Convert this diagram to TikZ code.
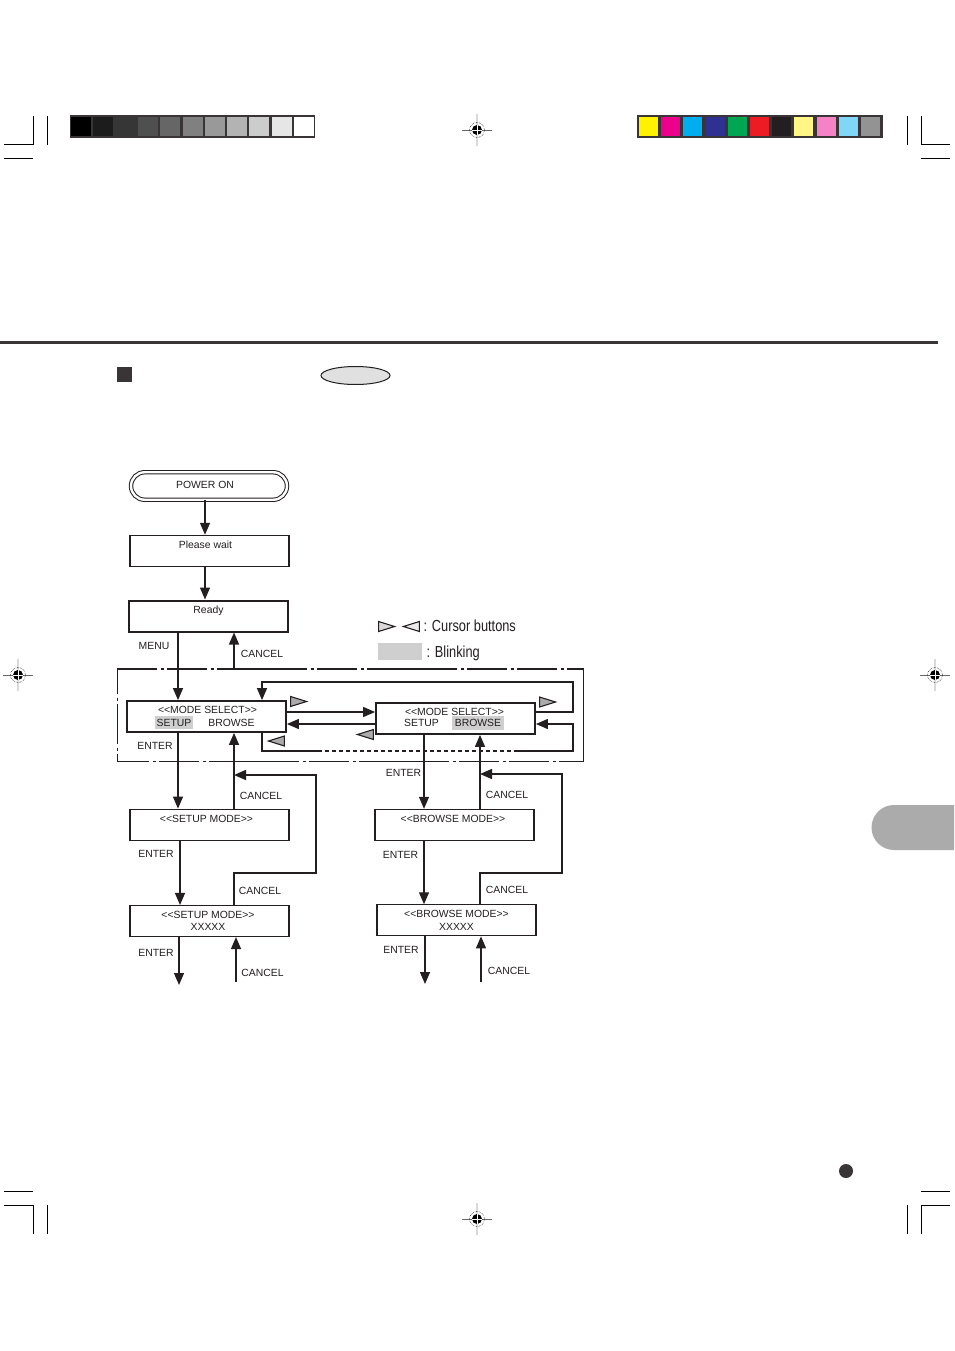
\documentclass[tikz,border=0pt]{standalone}
\usepackage{fontspec}
\setmainfont{Liberation Sans}
\newfontfamily\legendfont[FakeStretch=0.8]{Liberation Sans}
\usetikzlibrary{arrows.meta,shapes.geometric,shapes.misc}

\definecolor{blink}{HTML}{CFCFCF}
\definecolor{ink}{HTML}{231F20}
\definecolor{cursorgrey}{HTML}{ABABAB}

\begin{document}
\begin{tikzpicture}[x=1pt,y=-1pt,>={Triangle[length=12pt,width=10pt]},
    font=\fontsize{10.4}{12.6}\selectfont,line width=1.3pt,draw=ink,
    menu box/.style={rectangle,draw=ink,align=center,text=ink,minimum width=159pt,minimum height=31pt,inner sep=0pt},
    key label/.style={text=ink,inner sep=0pt},
    blink label/.style={text=ink,fill=blink,inner sep=0pt,minimum height=13.5pt},
    cursor/.style={isosceles triangle,isosceles triangle stretches,draw=ink,fill=cursorgrey,anchor=apex,
      line width=1.1pt,minimum width=10pt,minimum height=16pt,inner sep=0pt},
    crop/.style={line width=1pt,draw=black},
    frame edge/.style={line width=0.9pt,dash pattern=on 40pt off 3.5pt on 3pt off 3.5pt on 40pt off 3.5pt on 3pt off 3.5pt on 90pt off 3.5pt on 3pt off 3.5pt on 40pt off 3.5pt on 3pt off 3.5pt on 90pt off 3.5pt on 3pt off 3.5pt on 40pt off 3.5pt on 3pt off 3.5pt on 40pt off 3.5pt on 3pt off 3.5pt on 40pt}]
  \useasboundingbox (0,0) rectangle (954,1351);

  % page furniture
  \fill[white] (0,0) rectangle (954,1351);
  \fill[fill=ink!90!white] (70,115) rectangle (315,138);
  \fill[fill=ink!90!white] (637,115) rectangle (883,138);
  \foreach \i/\shade in {0/000000,1/1C1C1C,2/363636,3/4F4F4F,4/666666,5/808080,6/999999,7/B3B3B3,8/CCCCCC,9/E6E6E6,10/FFFFFF}{
    \definecolor{cell}{HTML}{\shade}
    \fill[cell] (71+22.3*\i,117) rectangle ++(20,19);
  }
  \foreach \i/\shade in {0/FFF200,1/EC008C,2/00AEEF,3/2E3192,4/00A651,5/ED1C24,6/231F20,7/FFF685,8/F682C6,9/7FD6F7,10/939393}{
    \definecolor{cell}{HTML}{\shade}
    \fill[cell] (639+22.2*\i,117) rectangle ++(19,19);
  }
  \draw[crop] (4,145) -- (33,145) -- (33,116) (47,116) -- (47,145) (4,159) -- (33,159);
  \draw[crop] (950,145) -- (921,145) -- (921,116) (907,116) -- (907,145) (950,159) -- (921,159);
  \draw[crop] (4,1205) -- (33,1205) -- (33,1234) (47,1205) -- (47,1234) (4,1191) -- (33,1191);
  \draw[crop] (950,1205) -- (921,1205) -- (921,1234) (907,1205) -- (907,1234) (950,1191) -- (921,1191);
  \foreach \px/\py in {477/130,477/1219,18/675,935/675}{
    \begin{scope}[shift={(\px,\py)}]
      \draw[line width=1.8pt,black!15] (0,-16) -- (0,16);
      \draw[line width=0.6pt,black!60] (-15,0) -- (15,0);
      \draw[line width=0.5pt,black,densely dotted] (0,0) circle (7.5pt);
      \fill[black] (0,0) circle (5pt);
      \draw[line width=0.7pt,white] (-5,0) -- (5,0) (0,-5) -- (0,5);
    \end{scope}
  }
  \fill[ink!90!white] (0,341) rectangle (938,344);
  \fill[ink!90!white] (117,367) rectangle (132,382);
  \node[ellipse,draw=ink,fill=black!12,line width=1pt,minimum width=69pt,minimum height=18pt,inner sep=0pt] (button) at (355.5,375.5) {};
  \fill[black!33] (954,805) -- (894,805) arc[start angle=90,end angle=270,radius=22.5pt] -- (954,850) -- cycle;
  \fill[ink!90!white] (846,1171) circle (7pt);

  % columns the arrows run on
  \coordinate (left down) at (178,0);
  \coordinate (left up) at (234,0);
  \coordinate (right down) at (424,0);
  \coordinate (right up) at (480,0);

  % boxes
  \node[menu box,rounded rectangle,double,double distance=2.4pt,line width=1pt,minimum width=156pt,minimum height=27.5pt] (power) at (209,486) {\raisebox{2pt}{POWER ON}\kern8pt};
  \node[menu box,line width=1.5pt] (wait) at (209.5,551) {Please wait\kern8pt\\~};
  \node[menu box,line width=2pt] (ready) at (208.5,616) {Ready\\~};
  \node[inner sep=0pt,minimum width=465pt,minimum height=91pt] (frame) at (350.5,715.5) {};
  \draw[frame edge,line width=2pt] (frame.north west) -- (frame.north east);
  \draw[frame edge,dash phase=15pt] (frame.north west) -- (frame.south west);
  \draw[frame edge,dash phase=8pt] (frame.south west) -- (frame.south east);
  \draw[line width=0.9pt] (frame.north east) -- (frame.south east);
  \node[menu box,line width=1.8pt] (mode setup) at (206.5,716.5) {\kern2pt<{}<MODE SELECT>{}>\\~};
  \node[blink label,minimum width=38pt] (setup on) at (174,722.5) {SETUP};
  \node[key label] (browse off) at (231.5,722.5) {BROWSE};
  \node[menu box,line width=1.8pt] (mode browse) at (455.5,718.5) {<{}<MODE SELECT>{}>\kern2pt\\~};
  \node[key label] (setup off) at (421.5,723) {SETUP};
  \node[blink label,minimum width=52pt] (browse on) at (478,723) {BROWSE};
  \node[menu box,line width=1.8pt] (setup) at (209.5,825) {<{}<SETUP MODE>{}>\kern6pt\\~};
  \node[menu box,line width=1.1pt] (setup value) at (209.5,921) {<{}<SETUP MODE>{}>\kern3pt\\XXXXX\kern3pt};
  \node[menu box,line width=1.4pt] (browse) at (454.5,825) {<{}<BROWSE MODE>{}>\kern3pt\\~};
  \node[menu box,line width=1.1pt] (browse value) at (456.5,920.3) {<{}<BROWSE MODE>{}>\\XXXXX};

  % free ends
  \coordinate (setup end) at (179,985);
  \coordinate (setup start) at (236,982);
  \coordinate (browse end) at (425,984);
  \coordinate (browse start) at (481,982);
  \coordinate (top corner a) at (573,682);
  \coordinate (top corner b) at (262,682);
  \coordinate (low corner a) at (262,751);
  \coordinate (low corner b) at (573,751);
  \coordinate (dash a) at (318,751);
  \coordinate (dash b) at (517,751);

  % connectors
  \draw[->] (power.south -| 205,0) -- (wait.north -| 205,0);
  \draw[->] (wait.south -| 205,0) -- (ready.north -| 205,0);
  \draw[->] (ready.south -| left down) -- (mode setup.north -| left down);
  \draw[->] (frame.north -| left up) -- (ready.south -| left up);
  \draw[->] (mode setup.south -| left down) -- (setup.north -| left down);
  \draw[->] (setup.north -| left up) -- (mode setup.south -| left up);
  \draw[->] (setup.south -| 180,0) -- (setup value.north -| 180,0);
  \draw[->] (setup value.south -| setup end) -- (setup end);
  \draw[->] (setup start) -- (setup value.south -| setup start);
  \draw[->,line width=1.6pt] (setup value.north -| left up) -- (234,873) -- (316,873) -- (316,775) -- (left up |- 0,775);

  \draw[->] (mode browse.south -| right down) -- (browse.north -| right down);
  \draw[->] (browse.north -| right up) -- (mode browse.south -| right up);
  \draw[->] (browse.south -| right down) -- (browse value.north -| right down);
  \draw[->] (browse value.south -| browse end) -- (browse end);
  \draw[->] (browse start) -- (browse value.south -| browse start);
  \draw[->,line width=1.6pt] (browse value.north -| right up) -- (480,873) -- (562,873) -- (562,774) -- (right up |- 0,774);

  \draw[->] (mode setup.east |- 0,712) -- (mode browse.west |- 0,712);
  \draw[->] (mode browse.west |- 0,724) -- (mode setup.east |- 0,724);
  \draw[->] (mode browse.east |- 0,712) -- (573,712) -- (top corner a) -- (top corner b) -- (mode setup.north -| top corner b);
  \draw (mode setup.south -| low corner a) -- (low corner a) -- (dash a);
  \draw[line width=1.6pt,dash pattern=on 4pt off 3pt] (dash a) -- (dash b);
  \draw[->] (dash b) -- (low corner b) -- (573,724) -- (mode browse.east |- 0,724);

  % key labels
  \node[key label] (menu) at (154,645.5) {MENU};
  \node[key label] (cancel ready) at (262,653.5) {CANCEL};
  \node[key label] (enter mode a) at (155,745.5) {ENTER};
  \node[key label] (enter mode b) at (403.5,772.5) {ENTER};
  \node[key label] (cancel setup) at (261,795.5) {CANCEL};
  \node[key label] (cancel browse) at (507,794.5) {CANCEL};
  \node[key label] (enter setup) at (156,853.5) {ENTER};
  \node[key label] (enter browse) at (400.5,854.5) {ENTER};
  \node[key label] (cancel setup value) at (260,890.5) {CANCEL};
  \node[key label] (cancel browse value) at (507,889.5) {CANCEL};
  \node[key label] (enter setup next) at (156,952.5) {ENTER};
  \node[key label] (cancel setup next) at (262.5,972.5) {CANCEL};
  \node[key label] (enter browse next) at (401,949.5) {ENTER};
  \node[key label] (cancel browse next) at (509,970.5) {CANCEL};

  % cursor marks and legend
  \node[cursor] (next a) at (308,701.5) {};
  \node[cursor,shape border rotate=180] (back a) at (267,741) {};
  \node[cursor,shape border rotate=180] (back b) at (356,734.5) {};
  \node[cursor] (next b) at (557,702) {};
  \node[cursor,fill=black!15] (legend next) at (396,626.5) {};
  \node[cursor,fill=black!8,shape border rotate=180] (legend back) at (402,626.5) {};
  \node[key label,anchor=west,font=\legendfont\fontsize{16}{18}\selectfont] (legend cursor) at (423,626) {: Cursor buttons};
  \node[fill=blink,minimum width=44pt,minimum height=17pt,inner sep=0pt] (legend blink) at (400,651.5) {};
  \node[key label,anchor=west,font=\legendfont\fontsize{16}{18}\selectfont] (legend text) at (426,653) {: Blinking};
\end{tikzpicture}
\end{document}
